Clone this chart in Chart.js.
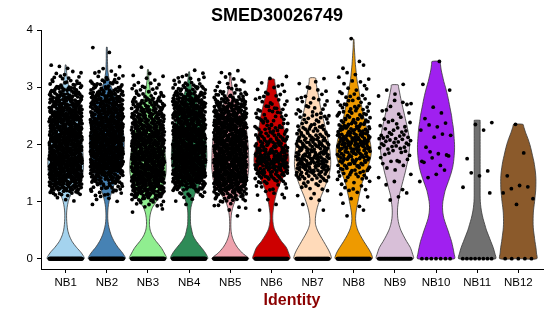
<!DOCTYPE html>
<html>
<head>
<meta charset="utf-8">
<script src="https://cdn.jsdelivr.net/npm/chart.js@4.4.1/dist/chart.umd.min.js"></script>
<style>
  html, body { margin: 0; padding: 0; background: #fff; }
  canvas { display: block; }
</style>
</head>
<body>
<canvas id="violin" width="550" height="316"></canvas>
<script>
const categories = ['NB1', 'NB2', 'NB3', 'NB4', 'NB5', 'NB6', 'NB7', 'NB8', 'NB9', 'NB10', 'NB11', 'NB12'];
const colors = ['#A4D3EE', '#4682B4', '#90EE90', '#2E8B57', '#EEA2AD', '#CD0000',
                '#FFDAB9', '#EE9A00', '#D8BFD8', '#A020F0', '#707070', '#8B5A2B'];
const yTicks = [0, 1, 2, 3, 4];

// highest value of each cluster (top of the violin)
const tops = [3.39, 3.70, 3.31, 3.27, 3.24, 3.14, 3.16, 3.84, 3.04, 3.45, 2.42, 2.35];

// relative violin width at 0.0, 0.1, 0.2 ... last entry is the width at the top
const nb1Width = [1, 0.85, 0.58, 0.35, 0.2, 0.11, 0.07, 0.05, 0.05, 0.08, 0.14, 0.25, 0.45, 0.7, 0.85, 0.93, 0.96, 0.96, 0.94, 0.92, 0.9, 0.87, 0.83, 0.78, 0.72, 0.65, 0.57, 0.47, 0.37, 0.27, 0.18, 0.11, 0.07, 0.04, 0.02];
const nb2Width = [1, 0.85, 0.6, 0.4, 0.25, 0.15, 0.08, 0.05, 0.05, 0.07, 0.12, 0.2, 0.3, 0.4, 0.55, 0.68, 0.78, 0.85, 0.9, 0.93, 0.94, 0.93, 0.9, 0.86, 0.82, 0.77, 0.7, 0.6, 0.5, 0.38, 0.25, 0.15, 0.09, 0.05, 0.04, 0.03, 0.03, 0.02];
const nb3Width = [1, 0.88, 0.7, 0.45, 0.24, 0.12, 0.08, 0.09, 0.14, 0.25, 0.45, 0.62, 0.75, 0.85, 0.92, 0.97, 0.98, 0.97, 0.94, 0.9, 0.86, 0.82, 0.77, 0.7, 0.62, 0.52, 0.42, 0.32, 0.22, 0.15, 0.1, 0.06, 0.04, 0.03, 0.02];
const nb4Width = [1, 0.88, 0.65, 0.4, 0.22, 0.14, 0.08, 0.07, 0.07, 0.1, 0.18, 0.28, 0.4, 0.58, 0.75, 0.86, 0.92, 0.95, 0.96, 0.95, 0.93, 0.9, 0.86, 0.8, 0.73, 0.65, 0.55, 0.45, 0.35, 0.25, 0.15, 0.08, 0.04, 0.02];
const nb5Width = [1, 0.65, 0.38, 0.2, 0.09, 0.04, 0.03, 0.04, 0.07, 0.14, 0.25, 0.45, 0.68, 0.85, 0.93, 0.97, 1, 1, 0.99, 0.98, 0.96, 0.93, 0.9, 0.85, 0.78, 0.68, 0.55, 0.38, 0.25, 0.15, 0.1, 0.06, 0.03, 0.02];
const nb6Width = [1, 0.93, 0.8, 0.55, 0.35, 0.18, 0.1, 0.07, 0.08, 0.12, 0.17, 0.24, 0.33, 0.45, 0.6, 0.75, 0.87, 0.94, 0.93, 0.87, 0.8, 0.76, 0.72, 0.67, 0.62, 0.57, 0.5, 0.43, 0.35, 0.28, 0.22, 0.18, 0.16];
const nb7Width = [1, 0.94, 0.78, 0.6, 0.42, 0.26, 0.16, 0.15, 0.19, 0.26, 0.36, 0.47, 0.6, 0.72, 0.83, 0.91, 0.97, 0.98, 0.96, 0.93, 0.88, 0.82, 0.75, 0.68, 0.61, 0.53, 0.46, 0.4, 0.35, 0.29, 0.23, 0.18, 0.16];
const nb8Width = [1, 0.93, 0.75, 0.55, 0.37, 0.22, 0.13, 0.1, 0.12, 0.17, 0.23, 0.29, 0.36, 0.43, 0.53, 0.65, 0.76, 0.86, 0.93, 0.95, 0.91, 0.85, 0.77, 0.69, 0.61, 0.53, 0.47, 0.41, 0.35, 0.3, 0.25, 0.19, 0.15, 0.12, 0.09, 0.07, 0.05, 0.03, 0.02, 0.01];
const nb9Width = [1, 0.94, 0.83, 0.64, 0.47, 0.32, 0.22, 0.16, 0.14, 0.15, 0.19, 0.23, 0.31, 0.39, 0.47, 0.55, 0.62, 0.69, 0.74, 0.78, 0.8, 0.78, 0.73, 0.67, 0.6, 0.53, 0.46, 0.39, 0.32, 0.26, 0.2, 0.18];
const nb10Width = [1, 0.97, 0.91, 0.84, 0.74, 0.64, 0.53, 0.43, 0.37, 0.35, 0.37, 0.43, 0.5, 0.61, 0.72, 0.82, 0.9, 0.95, 0.98, 1, 1, 0.98, 0.96, 0.93, 0.88, 0.84, 0.78, 0.72, 0.66, 0.59, 0.51, 0.42, 0.35, 0.28, 0.24, 0.22];
const nb11Width = [1, 0.95, 0.86, 0.74, 0.62, 0.5, 0.41, 0.32, 0.25, 0.2, 0.17, 0.16, 0.16, 0.16, 0.16, 0.16, 0.16, 0.16, 0.16, 0.16, 0.16, 0.16, 0.16, 0.16, 0.16, 0.16];
const nb12Width = [1, 0.98, 0.95, 0.9, 0.86, 0.82, 0.8, 0.8, 0.81, 0.84, 0.88, 0.91, 0.94, 0.95, 0.95, 0.93, 0.89, 0.84, 0.77, 0.7, 0.62, 0.52, 0.4, 0.3, 0.25];

// cells with zero expression
const zeroCounts = [120, 120, 120, 120, 110, 70, 70, 70, 40, 7, 8, 5];
// cells per 0.1 bin of expression: 0.0-0.1, 0.1-0.2, ...
const nb1Counts = [0, 0, 0, 0, 0, 0, 0, 0, 0, 0, 3, 14, 29, 40, 44, 46, 46, 46, 46, 46, 46, 44, 44, 42, 40, 38, 35, 31, 26, 20, 13, 8, 4, 3];
const nb2Counts = [0, 0, 0, 0, 0, 0, 0, 0, 0, 1, 4, 8, 13, 20, 31, 40, 44, 46, 46, 46, 46, 46, 44, 42, 40, 38, 37, 33, 29, 22, 14, 8, 4, 2, 0, 0, 2];
const nb3Counts = [0, 0, 0, 0, 0, 0, 0, 0, 2, 7, 16, 29, 37, 42, 44, 44, 44, 44, 44, 42, 40, 39, 37, 35, 31, 28, 23, 17, 12, 8, 5, 3, 2, 1];
const nb4Counts = [0, 0, 0, 0, 0, 0, 0, 0, 0, 1, 4, 9, 21, 33, 42, 44, 46, 46, 46, 46, 44, 44, 42, 40, 38, 37, 33, 30, 24, 17, 10, 6, 3];
const nb5Counts = [0, 0, 0, 0, 0, 0, 0, 1, 2, 5, 13, 24, 37, 42, 44, 44, 44, 44, 44, 44, 42, 42, 40, 38, 37, 33, 30, 23, 14, 8, 5, 3, 3];
const nb6Counts = [0, 0, 0, 0, 0, 0, 0, 0, 1, 1, 2, 4, 6, 10, 18, 24, 28, 28, 25, 22, 18, 15, 12, 10, 9, 8, 7, 6, 5, 4, 3, 2];
const nb7Counts = [0, 0, 0, 0, 0, 0, 0, 0, 1, 1, 2, 3, 5, 8, 15, 22, 25, 25, 22, 20, 18, 15, 12, 10, 8, 7, 6, 5, 4, 3, 3, 1];
const nb8Counts = [0, 0, 0, 0, 0, 0, 0, 1, 1, 2, 2, 3, 4, 6, 8, 12, 14, 18, 22, 24, 24, 22, 20, 16, 13, 11, 9, 7, 6, 4, 3, 3, 2, 2, 1, 0, 0, 0, 1];
const nb9Counts = [0, 0, 0, 0, 0, 0, 0, 0, 0, 0, 2, 1, 2, 1, 2, 2, 3, 4, 6, 8, 9, 8, 6, 5, 3, 3, 3, 3, 2, 1, 1];
const nb10Counts = [0, 0, 0, 0, 0, 0, 0, 0, 0, 0, 0, 0, 0, 1, 2, 1, 2, 3, 3, 1, 0, 3, 1, 3, 1, 1, 1, 0, 0, 1, 1, 0, 0, 0, 1];
const nb11Counts = [0, 0, 0, 0, 0, 0, 0, 0, 0, 0, 0, 1, 1, 0, 1, 2, 0, 1, 0, 0, 0, 0, 1, 2];
const nb12Counts = [0, 0, 0, 0, 0, 0, 0, 0, 0, 1, 1, 1, 3, 0, 1, 0, 0, 0, 1, 0, 0, 0, 0, 1];

const widths = [nb1Width, nb2Width, nb3Width, nb4Width, nb5Width, nb6Width,
                nb7Width, nb8Width, nb9Width, nb10Width, nb11Width, nb12Width];
const counts = [nb1Counts, nb2Counts, nb3Counts, nb4Counts, nb5Counts, nb6Counts,
                nb7Counts, nb8Counts, nb9Counts, nb10Counts, nb11Counts, nb12Counts];

const HALF = 0.45;    // half of the violin width, in category units
const JITTER = 0.4;   // half of the jitter width

// radical inverse (Halton sequence), spreads the dots of each bin evenly
function halton(n, base) {
  let f = 1, r = 0;
  while (n > 0) {
    f /= base;
    r += f * (n % base);
    n = Math.floor(n / base);
  }
  return r;
}

// outline of one violin, bottom centre -> right side up -> left side down
function violinOutline(i) {
  const w = widths[i];
  const lv = w.map((_, k) => (k === w.length - 1 ? tops[i] : k / 10));
  const right = lv.map((y, k) => ({ x: i + w[k] * HALF, y: y }));
  const left = lv.map((y, k) => ({ x: i - w[k] * HALF, y: y })).reverse();
  return [{ x: i, y: 0 }].concat(right, left, [{ x: i, y: 0 }]);
}

// one dot per cell, spread across the cluster like a jitter
const cells = [];
counts.forEach(function (bins, i) {
  const z = zeroCounts[i];
  for (let j = 0; j < z; j++) {
    cells.push({ x: i + ((j + 0.5) / z * 2 - 1) * JITTER, y: 0 });
  }
  let n = 0;
  bins.forEach(function (c, k) {
    for (let j = 0; j < c; j++) {
      n++;
      const fx = halton(n + 7 * i, 2);
      const fy = c === 1 ? 0.5 : halton(n + 5 * i, 3);
      cells.push({ x: i + (fx * 2 - 1) * JITTER, y: (k + fy) / 10 });
    }
  });
});

const violins = categories.map(function (name, i) {
  return {
    label: name,
    data: violinOutline(i),
    showLine: true,
    fill: 'shape',
    backgroundColor: colors[i],
    borderColor: '#3a3a3a',
    borderWidth: 0.8,
    pointRadius: 0,
    tension: 0.25,
    order: 1
  };
});

const font = '"Liberation Sans", Arial, Helvetica, sans-serif';

const textPlugin = {
  id: 'texts',
  afterDraw(chart) {
    const ctx = chart.ctx;
    const area = chart.chartArea;
    ctx.save();
    ctx.textAlign = 'center';
    ctx.textBaseline = 'alphabetic';
    ctx.fillStyle = '#000';
    ctx.font = 'bold 18px ' + font;
    ctx.fillText('SMED30026749', 277, 20.5);
    ctx.fillStyle = '#8B0000';
    ctx.font = 'bold 16px ' + font;
    ctx.fillText('Identity', (area.left + area.right) / 2, 304.5);
    ctx.restore();
  }
};

new Chart(document.getElementById('violin'), {
  type: 'scatter',
  data: {
    datasets: [{
      label: 'cells',
      data: cells,
      pointRadius: 1.9,
      pointBorderWidth: 0,
      pointBackgroundColor: '#000',
      order: 0
    }].concat(violins)
  },
  options: {
    responsive: false,
    animation: false,
    events: [],
    layout: { padding: { left: 0, right: 7, top: 30, bottom: 0 } },
    plugins: {
      legend: { display: false },
      tooltip: { enabled: false }
    },
    scales: {
      x: {
        type: 'linear',
        min: -0.6,
        max: 11.6,
        afterBuildTicks: function (axis) {
          axis.ticks = categories.map((_, i) => ({ value: i }));
        },
        afterFit: function (axis) { axis.height = 47; },
        ticks: {
          autoSkip: false,
          maxRotation: 0,
          padding: 3,
          color: '#000',
          font: { family: font, size: 11.5 },
          callback: (v) => categories[v]
        },
        grid: { drawOnChartArea: false, color: '#000', tickLength: 4 },
        border: { color: '#000', width: 1 }
      },
      y: {
        min: -0.18,
        max: 4,
        afterBuildTicks: function (axis) {
          axis.ticks = yTicks.map((v) => ({ value: v }));
        },
        afterFit: function (axis) { axis.width = 41; },
        ticks: {
          padding: 4,
          color: '#000',
          font: { family: font, size: 11.5 }
        },
        grid: { drawOnChartArea: false, color: '#000', tickLength: 4 },
        border: { color: '#000', width: 1 }
      }
    }
  },
  plugins: [textPlugin]
});
</script>
</body>
</html>
